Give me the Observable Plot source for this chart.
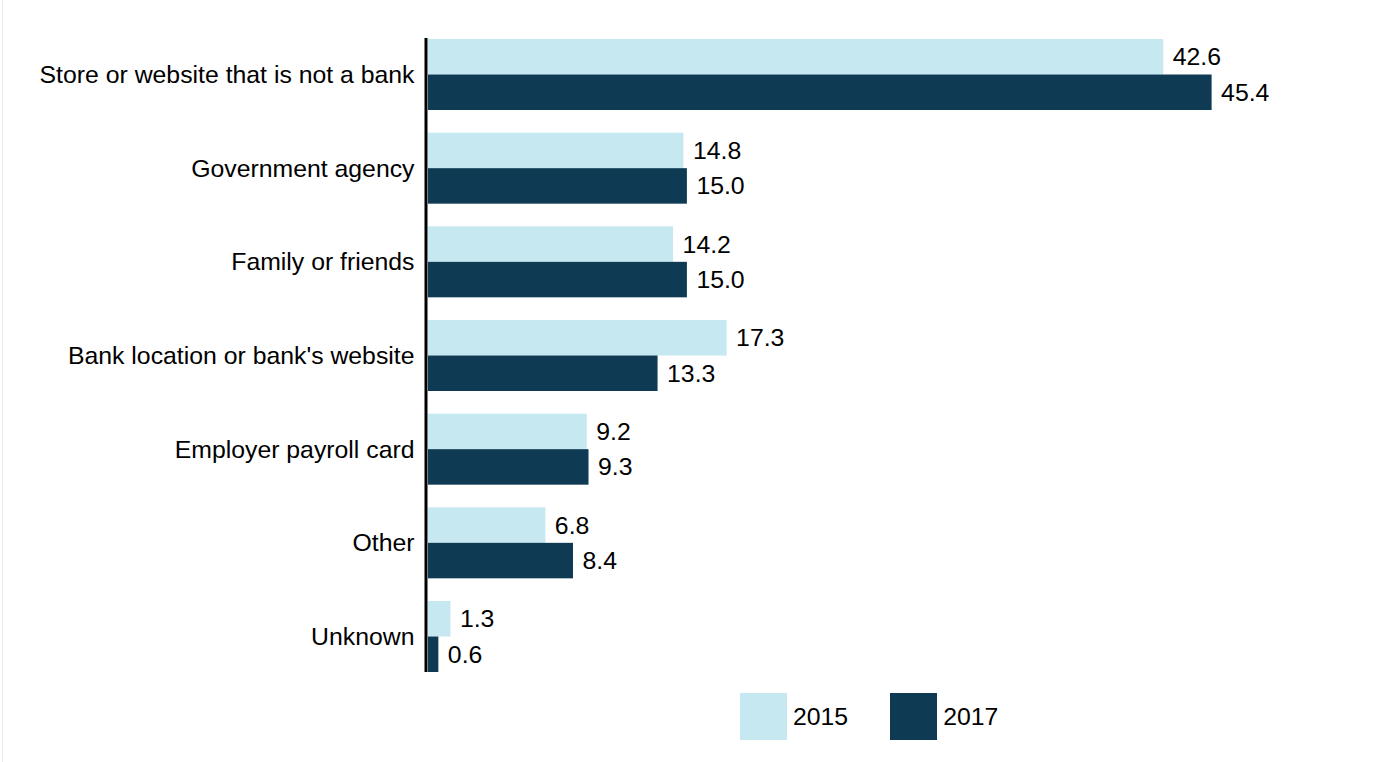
<!DOCTYPE html>
<html>
<head>
<meta charset="utf-8">
<script src="https://cdn.jsdelivr.net/npm/d3@7"></script>
<script src="https://cdn.jsdelivr.net/npm/@observablehq/plot@0.6"></script>
<style>
  html, body { margin: 0; padding: 0; background: #fff; }
  body { width: 1394px; height: 762px; position: relative; overflow: hidden; font-family: "Liberation Sans", Arial, sans-serif; }
  #edge { position: absolute; left: 2px; top: 0; width: 1px; height: 762px; background: #e6eeee; }
  #chart { position: absolute; left: 0; top: 0; }
  #legend { position: absolute; top: 693px; left: 740px; display: flex; align-items: center; font-size: 24.8px; color: #000; }
  .item { display: flex; align-items: center; }
  .sw { width: 47px; height: 47px; margin-right: 6px; }
</style>
</head>
<body>
<div id="edge"></div>
<div id="chart"></div>
<div id="legend"></div>
<script>
const categories = [
  "Store or website that is not a bank",
  "Government agency",
  "Family or friends",
  "Bank location or bank's website",
  "Employer payroll card",
  "Other",
  "Unknown"
];
const years = ["2015", "2017"];
const values2015 = [42.6, 14.8, 14.2, 17.3, 9.2, 6.8, 1.3];
const values2017 = [45.4, 15.0, 15.0, 13.3, 9.3, 8.4, 0.6];
const colors = ["#c5e8f1", "#0e3a54"];

const d15 = categories.map((c, i) => ({category: c, value: values2015[i]}));
const d17 = categories.map((c, i) => ({category: c, value: values2017[i]}));
const half = 35.5;

const chart = Plot.plot({
  width: 1394,
  height: 685,
  marginLeft: 428,
  marginRight: 103,
  marginTop: 39,
  marginBottom: 13,
  style: {fontFamily: "'Liberation Sans', Arial, sans-serif", fontSize: "24.8px", color: "#000", background: "transparent"},
  x: {domain: [0, 50], axis: null},
  y: {domain: categories, paddingInner: 0.242, paddingOuter: 0, round: false, label: null, axis: null},
  marks: [
    Plot.axisY({tickSize: 0, tickPadding: 14, label: null, fontSize: 24.8}),
    Plot.barX(d15, {x: "value", y: "category", fill: colors[0], insetBottom: half}),
    Plot.barX(d17, {x: "value", y: "category", fill: colors[1], insetTop: half}),
    Plot.text(d15, {x: "value", y: "category", text: d => d.value.toFixed(1), textAnchor: "start", dx: 9, dy: -half / 2, fill: "#000", fontSize: 24.8}),
    Plot.text(d17, {x: "value", y: "category", text: d => d.value.toFixed(1), textAnchor: "start", dx: 9, dy: half / 2, fill: "#000", fontSize: 24.8}),
    Plot.ruleX([0], {stroke: "#000", strokeWidth: 3, dx: -2.5, insetTop: -1})
  ]
});
document.getElementById("chart").appendChild(chart);

const legend = document.getElementById("legend");
years.forEach((y, i) => {
  const item = document.createElement("div");
  item.className = "item";
  item.style.marginRight = i === 0 ? "42px" : "0";
  const sw = document.createElement("div");
  sw.className = "sw";
  sw.style.background = colors[i];
  const t = document.createElement("span");
  t.textContent = y;
  item.appendChild(sw);
  item.appendChild(t);
  legend.appendChild(item);
});
</script>
</body>
</html>
